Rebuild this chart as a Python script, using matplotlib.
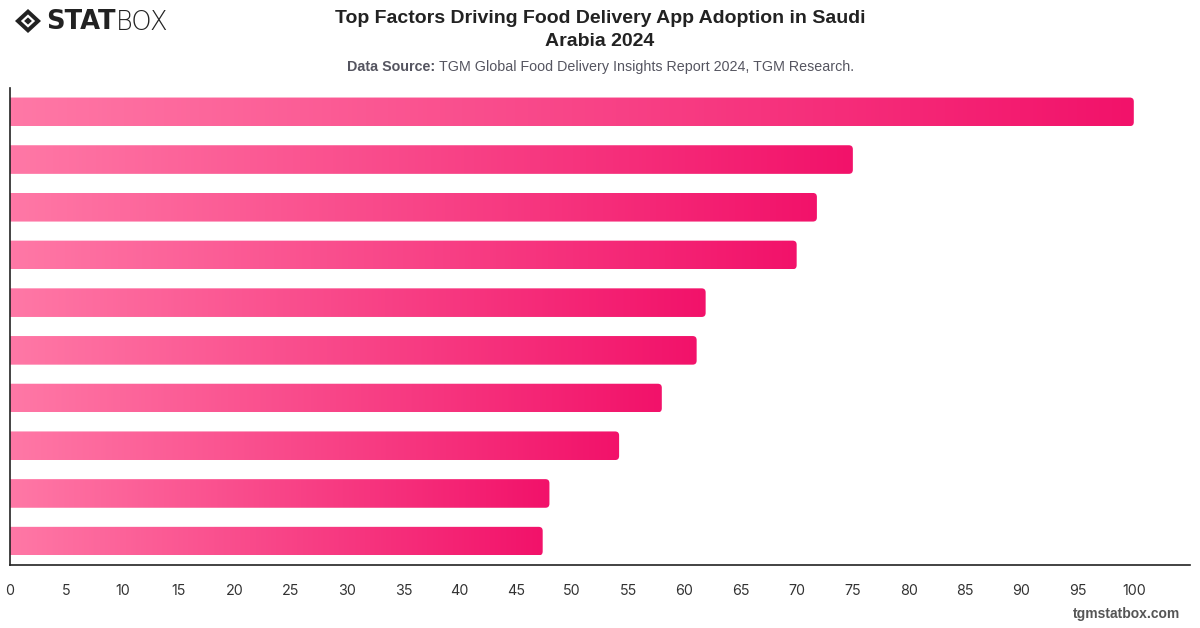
import numpy as np
import matplotlib
matplotlib.use("Agg")
from matplotlib import pyplot as plt
from matplotlib.colors import LinearSegmentedColormap
from matplotlib.patches import FancyBboxPatch, Polygon


#+++++ data (top bar first)
values = [100, 75, 71.8, 70, 61.9, 61.1, 58, 54.2, 48, 47.4]
xticks = list(range(0, 105, 5))
title = "Top Factors Driving Food Delivery App Adoption in Saudi\nArabia 2024"
source = "TGM Global Food Delivery Insights Report 2024, TGM Research."
#-----

plt.rcParams["font.family"] = ["Liberation Sans", "DejaVu Sans"]
grad = LinearSegmentedColormap.from_list("pink", ["#ff78a6", "#f2126a"])

W, H = 1200, 628
fig = plt.figure(figsize=(W/100, H/100), dpi=100)
ax = fig.add_axes([10/W, 1 - 565/H, 1180/W, 477/H])

ypos = np.arange(len(values))[::-1]
bars = ax.barh(ypos, values, height=0.6, color="none", edgecolor="none")
ax.set_xlim(0, 105)
ax.set_ylim(-0.5, len(values) - 0.5)

# px per data unit, used for round corners
px_x = 1180/105
px_y = 477/len(values)
r = 4/px_x
gradient = np.linspace(0, 1, 256).reshape(1, -1)
for b in bars:
    x0, y0 = b.get_x(), b.get_y()
    w, h = b.get_width(), b.get_height()
    clip = FancyBboxPatch((x0 - 2, y0), w + 2, h,
                          boxstyle=f"round,pad=0,rounding_size={r}",
                          mutation_aspect=px_x/px_y,
                          transform=ax.transData, facecolor="none", edgecolor="none")
    ax.add_patch(clip)
    im = ax.imshow(gradient, cmap=grad, aspect="auto",
                   extent=(x0, x0 + w, y0, y0 + h), zorder=2)
    im.set_clip_path(clip)

ax.set_xlim(0, 105)
ax.set_ylim(-0.5, len(values) - 0.5)
ax.set_xticks(xticks)
ax.set_yticks([])
ax.tick_params(axis="x", length=0, pad=14, labelsize=10.3, labelcolor="#333333")
for lab in ax.get_xticklabels():
    lab.set_family("Inter")
for s in ["top", "right"]:
    ax.spines[s].set_visible(False)
for s in ["left", "bottom"]:
    ax.spines[s].set_color("#222222")
    ax.spines[s].set_linewidth(1.2)

# titles
fig.text(600/W, 1 - 30/H, title, ha="center", va="center", fontsize=14,
         fontweight="bold", color="#222222", linespacing=1.4)
t1 = fig.text(347/W, 1 - 67/H, "Data Source: ", ha="left", va="center",
              fontsize=10.3, fontweight="bold", color="#555560")
fig.canvas.draw()
bb = t1.get_window_extent()
fig.text(bb.x1/W, 1 - 67/H, source, ha="left", va="center",
         fontsize=10.3, color="#555560")

# logo
cx, cy = 28/W, 1 - 21/H
sx, sy = 13/W, 12/H
fig.add_artist(Polygon([(cx - sx, cy), (cx, cy + sy), (cx + sx, cy), (cx, cy - sy)],
                       closed=True, transform=fig.transFigure, facecolor="#222222"))
fig.add_artist(Polygon([(cx - sx*0.55, cy), (cx, cy + sy*0.55), (cx + sx*0.55, cy), (cx, cy - sy*0.55)],
                       closed=True, transform=fig.transFigure, facecolor="white"))
fig.add_artist(Polygon([(cx - sx*0.3, cy), (cx, cy + sy*0.3), (cx + sx*0.3, cy), (cx, cy - sy*0.3)],
                       closed=True, transform=fig.transFigure, facecolor="#222222"))
ls = fig.text(46/W, 1 - 22/H, "STAT", ha="left", va="center", fontsize=18.5,
              fontweight="heavy", color="#222222", family="DejaVu Sans")
fig.canvas.draw()
bb = ls.get_window_extent()
fig.text(bb.x1/W, 1 - 22/H, "BOX", ha="left", va="center", fontsize=18.5,
         fontweight="light", color="#222222", family="DejaVu Sans")

fig.text(1180/W, 1 - 614/H, "tgmstatbox.com", ha="right", va="center",
         fontsize=10, fontweight="bold", color="#555555")

fig.savefig("out.png", dpi=100)
